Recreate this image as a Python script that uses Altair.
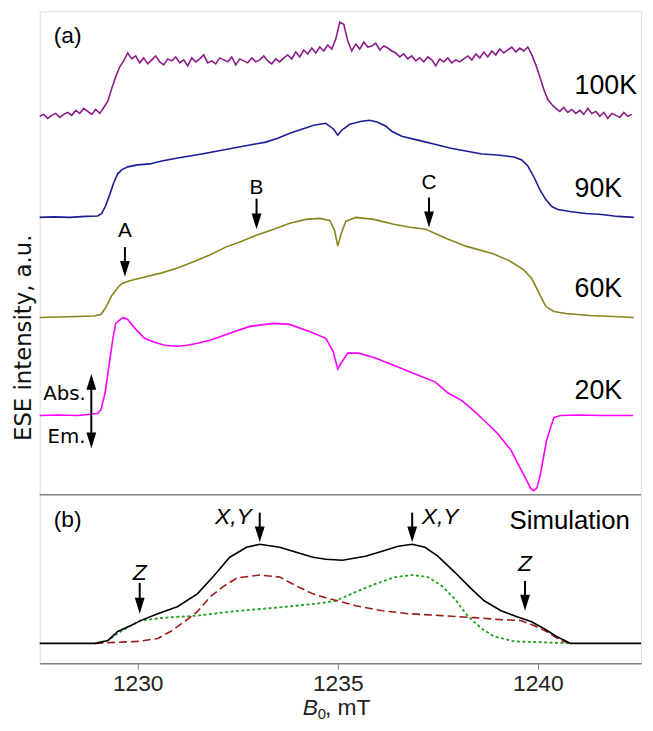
import altair as alt
import pandas as pd

# ---------------- data (field in mT, intensity in a.u.) ----------------
# 100K trace: field sweep start / step, intensities read point by point
SWEEP_START = 1227.55
SWEEP_STEP = 0.1
I_100K = [0, 2, -2, 1, 3, -1, 2, 4, 1, 6, 3, 8, 5, 2, 7,
          3, 9, 15, 28, 40, 50, 56, 64, 58, 61,
          54, 59, 53, 57, 61, 55, 52, 58, 56, 60, 54, 57, 51, 59, 55, 58, 62, 54, 56, 53,
          59, 57, 55, 60, 52, 58, 56, 54, 59, 55, 57, 61, 56, 53, 58, 55, 59,
          62, 58, 65, 60, 67, 63, 69, 64, 70, 66, 72, 68,
          78, 95, 93, 76, 66,
          73, 68, 75, 70, 71, 74, 67, 71, 69, 66,
          64, 60, 63, 58, 61, 56, 59, 55, 60, 57, 51, 58, 55, 59, 54, 57, 55, 58,
          61, 57, 63, 59, 65, 60, 66, 62, 68, 64, 67, 70, 65, 69, 66, 70,
          62, 52, 40, 27, 17, 12,
          8, 5, 9, 4, 7, 3, 6, 2, 8, 3, 5, 0, 4, -2, 3, 1, -1, 4, 0, 2]
B_100K = [round(SWEEP_START + SWEEP_STEP * i, 3) for i in range(len(I_100K))]

B_90K = [1227.55, 1227.9, 1228.3, 1228.7, 1229.0, 1229.1, 1229.2, 1229.3, 1229.4, 1229.5,
         1229.6, 1229.75, 1230.0, 1230.3, 1230.6, 1231.0, 1231.3, 1231.6, 1232.0, 1232.4,
         1232.8, 1233.2, 1233.5, 1233.8, 1234.1, 1234.4, 1234.7, 1234.9, 1235.0, 1235.1,
         1235.3, 1235.6, 1235.8, 1236.0, 1236.2, 1236.35, 1236.6, 1237.0, 1237.4, 1237.8,
         1238.2, 1238.6, 1239.0, 1239.4, 1239.6, 1239.75, 1239.9, 1240.05, 1240.2, 1240.35,
         1240.5, 1240.8, 1241.2, 1241.6, 1242.0, 1242.4]
I_90K = [0, 0.5, 0, 1, 1.5, 4, 12, 23, 35, 44,
         48, 51, 53, 54, 57, 60, 62, 64, 67, 70,
         73, 76, 80, 85, 89, 93, 95, 89, 83, 88,
         94, 97, 98, 96, 92, 87, 82, 78, 74, 70,
         67, 64, 63, 61, 58, 52, 41, 28, 18, 11,
         8, 6, 4, 3, 1, 0]

B_60K = [1227.55, 1228.0, 1228.5, 1228.9, 1229.08, 1229.2, 1229.35, 1229.5, 1229.6, 1229.8,
         1230.1, 1230.6, 1231.0, 1231.5, 1231.8, 1232.2, 1232.6, 1232.97, 1233.4, 1233.8,
         1234.2, 1234.55, 1234.8, 1234.92, 1235.0, 1235.08, 1235.2, 1235.45, 1235.9, 1236.4,
         1236.8, 1237.2, 1237.7, 1238.2, 1238.9, 1239.3, 1239.65, 1239.85, 1240.05, 1240.2,
         1240.4, 1240.7, 1241.3, 1241.9, 1242.4]
I_60K = [0, 0.5, 1, 1.5, 3, 10, 22, 30, 34, 37,
         40, 45, 50, 58, 63, 71, 77, 83, 89, 95,
         99, 100, 98, 88, 72, 84, 97, 101, 99, 94,
         91, 89, 80, 72, 64, 57, 48, 39, 23, 11,
         6, 4, 2, 1, 0]

B_20K = [1227.55, 1228.0, 1228.5, 1229.0, 1229.08, 1229.18, 1229.3, 1229.38, 1229.45, 1229.63,
         1229.75, 1229.93, 1230.17, 1230.42, 1230.67, 1230.99, 1231.24, 1231.49, 1231.81, 1232.3,
         1232.8, 1233.39, 1233.79, 1234.28, 1234.7, 1234.88, 1235.0, 1235.07, 1235.25, 1235.52,
         1235.77, 1235.94, 1236.44, 1236.93, 1237.43, 1237.75, 1238.1, 1238.34, 1238.66, 1238.99,
         1239.33, 1239.48, 1239.65, 1239.83, 1239.9, 1239.98, 1240.07, 1240.22, 1240.4, 1240.57,
         1241.0, 1241.6, 1242.38]
I_20K = [0, 0.5, 0, 2, 6, 22, 55, 78, 93, 99,
         97, 88, 78, 74, 71, 70, 71, 73, 76, 83,
         90, 93, 92, 85, 78, 65, 47, 52, 63, 63,
         60, 58, 50, 42, 34, 23, 15, 7, -5, -18,
         -35, -47, -60, -74, -76, -73, -58, -25, -2, 0,
         0.5, 0, 0]

SPECTRA = ["100K", "90K", "60K", "20K"]
OFFSETS = {"100K": 552, "90K": 450, "60K": 349, "20K": 250}
COLORS = ["#8b1a8b", "#1c1c96", "#86861e", "#ff00ff"]

# simulation
B_SIM_TOTAL = [1227.55, 1228.94, 1229.26, 1229.5, 1229.83, 1230.07, 1230.5, 1230.99, 1231.49, 1231.9,
               1232.3, 1232.72, 1233.05, 1233.55, 1233.96, 1234.38, 1234.7, 1235.12, 1235.69, 1236.11,
               1236.51, 1236.86, 1237.18, 1237.5, 1237.92, 1238.34, 1238.66, 1239.08, 1239.48, 1239.83,
               1240.15, 1240.47, 1240.82, 1242.58]
I_SIM_TOTAL = [0, 0, 3, 12, 18, 23, 30, 37, 50, 68,
               87, 97, 100, 97, 92, 87, 85, 84, 88, 93,
               98, 100, 97, 88, 72, 55, 43, 33, 27, 22,
               15, 7, 0, 0]
B_SIM_XY = [1228.94, 1229.43, 1230.0, 1230.5, 1230.82, 1231.17, 1231.49, 1231.81, 1232.16, 1232.48,
            1233.05, 1233.55, 1233.96, 1234.38, 1234.7, 1235.0, 1235.45, 1236.11, 1236.76, 1237.6,
            1238.42, 1239.08, 1239.58, 1239.9, 1240.22, 1240.57, 1240.82]
I_SIM_XY = [0, 1, 2, 5, 12, 22, 32, 47, 58, 66,
            69, 67, 58, 50, 46, 43, 38, 33, 30, 28,
            26, 24, 23, 18, 12, 3, 0]
B_SIM_Z = [1228.94, 1229.26, 1229.5, 1229.83, 1230.07, 1230.67, 1231.49, 1232.31, 1233.15, 1233.96,
           1234.46, 1234.95, 1235.45, 1235.94, 1236.44, 1236.86, 1237.25, 1237.6, 1237.92, 1238.24,
           1238.59, 1238.91, 1239.41, 1240.22, 1240.82]
I_SIM_Z = [0, 3, 10, 18, 23, 26, 28, 32, 35, 38,
           40, 43, 52, 60, 67, 69, 67, 58, 45, 28,
           15, 7, 2, 1, 0]
SIM_OFFSET = 20

# ---------------- tables ----------------
rows = []
for name, xs, ys in [("100K", B_100K, I_100K), ("90K", B_90K, I_90K),
                     ("60K", B_60K, I_60K), ("20K", B_20K, I_20K)]:
    for b, v in zip(xs, ys):
        rows.append({"B": b, "I": OFFSETS[name] + v, "series": name})
spec_df = pd.DataFrame(rows)

sim_total = pd.DataFrame({"B": B_SIM_TOTAL, "I": [SIM_OFFSET + v for v in I_SIM_TOTAL]})
sim_xy = pd.DataFrame({"B": B_SIM_XY, "I": [SIM_OFFSET + v for v in I_SIM_XY]})
sim_z = pd.DataFrame({"B": B_SIM_Z, "I": [SIM_OFFSET + v for v in I_SIM_Z]})

# annotations (data units)
arrows = pd.DataFrame([
    {"B": 1229.68, "I": 420, "I2": 398, "tip": 398},
    {"B": 1232.97, "I": 469, "I2": 446, "tip": 446},
    {"B": 1237.28, "I": 470, "I2": 448, "tip": 448},
    {"B": 1230.05, "I": 81, "I2": 58, "tip": 58},
    {"B": 1233.05, "I": 152, "I2": 130, "tip": 130},
    {"B": 1236.86, "I": 152, "I2": 130, "tip": 130},
    {"B": 1239.68, "I": 83, "I2": 61, "tip": 61},
])
abs_em = pd.DataFrame([{"B": 1228.84, "I": 284, "I2": 225}])
up_heads = pd.DataFrame([{"B": 1228.84, "I": 284}])
down_heads = pd.concat([arrows[["B", "tip"]].rename(columns={"tip": "I"}),
                        pd.DataFrame([{"B": 1228.84, "I": 225}])])

peak_labels = pd.DataFrame([
    {"B": 1229.68, "I": 436, "t": "A"},
    {"B": 1232.97, "I": 480, "t": "B"},
    {"B": 1237.28, "I": 485, "t": "C"},
])
temp_labels = pd.DataFrame([
    {"B": 1240.92, "I": 583, "t": "100K"},
    {"B": 1240.92, "I": 479, "t": "90K"},
    {"B": 1240.92, "I": 378, "t": "60K"},
    {"B": 1240.92, "I": 275, "t": "20K"},
])
ae_labels = pd.DataFrame([
    {"B": 1228.17, "I": 272, "t": "Abs."},
    {"B": 1228.22, "I": 228, "t": "Em."},
])
panel_labels = pd.DataFrame([
    {"B": 1227.9, "I": 633, "t": "(a)"},
    {"B": 1227.9, "I": 144, "t": "(b)"},
])
sim_label = pd.DataFrame([{"B": 1242.3, "I": 143, "t": "Simulation"}])
z_labels = pd.DataFrame([
    {"B": 1230.05, "I": 91, "t": "Z"},
    {"B": 1239.68, "I": 100, "t": "Z"},
])
xy_left = pd.DataFrame([{"B": 1232.85, "I": 148, "t": "X,Y"}])
xy_right = pd.DataFrame([{"B": 1237.1, "I": 148, "t": "X,Y"}])

X_DOMAIN = [1227.55, 1242.58]
Y_DOMAIN = [0, 658]

x_enc = alt.X("B:Q", scale=alt.Scale(domain=X_DOMAIN, nice=False, zero=False),
              axis=alt.Axis(values=[1230, 1235, 1240], title=None, grid=False,
                            labelFont="Liberation Sans", labelFontSize=23, labelColor="#222",
                            tickSize=6, tickColor="#808080", domainColor="#808080",
                            domainWidth=1.5, labelPadding=4, format="d"))
y_enc = alt.Y("I:Q", scale=alt.Scale(domain=Y_DOMAIN, nice=False, zero=False),
              axis=alt.Axis(labels=False, ticks=False, domain=False, grid=False,
                            title="ESE intensity, a.u.", titleFont="DejaVu Sans",
                            titleFontSize=23, titleFontWeight="normal", titleColor="#111",
                            titlePadding=4))

spectra = alt.Chart(spec_df).mark_line(strokeWidth=1.6).encode(
    x=x_enc, y=y_enc,
    color=alt.Color("series:N", scale=alt.Scale(domain=SPECTRA, range=COLORS), legend=None),
    detail="series:N",
)

divider = alt.Chart(pd.DataFrame({"I": [170]})).mark_rule(color="#808080", strokeWidth=1.5).encode(
    y="I:Q")

l_total = alt.Chart(sim_total).mark_line(color="#000000", strokeWidth=1.6).encode(x="B:Q", y="I:Q")
l_xy = alt.Chart(sim_xy).mark_line(color="#9b1b1b", strokeWidth=1.6, strokeDash=[8, 4]).encode(
    x="B:Q", y="I:Q")
l_z = alt.Chart(sim_z).mark_line(color="#1fa31f", strokeWidth=1.8, strokeDash=[3, 2.5]).encode(
    x="B:Q", y="I:Q")

shafts = alt.Chart(arrows).mark_rule(color="black", strokeWidth=2).encode(
    x="B:Q", y="I:Q", y2="I2:Q")
ae_shaft = alt.Chart(abs_em).mark_rule(color="black", strokeWidth=2).encode(
    x="B:Q", y="I:Q", y2="I2:Q")
heads_down = alt.Chart(down_heads).mark_point(
    shape="M -0.62 -1 L 0.62 -1 L 0 1 Z", filled=True, color="black", size=256, opacity=1
).encode(x="B:Q", y="I:Q")
heads_up = alt.Chart(up_heads).mark_point(
    shape="M -0.62 1 L 0.62 1 L 0 -1 Z", filled=True, color="black", size=256, opacity=1
).encode(x="B:Q", y="I:Q")


def text_layer(df, **kw):
    return alt.Chart(df).mark_text(**kw).encode(x="B:Q", y="I:Q", text="t:N")


t_peaks = text_layer(peak_labels, font="Liberation Sans", fontSize=21, color="black",
                     align="center", baseline="middle")
t_temps = text_layer(temp_labels, font="Liberation Sans", fontSize=27, color="black",
                     align="left", baseline="middle")
t_ae = text_layer(ae_labels, font="DejaVu Sans", fontSize=20, color="black",
                  align="center", baseline="middle")
t_panels = text_layer(panel_labels, font="Liberation Sans", fontSize=23, color="black",
                      align="left", baseline="middle")
t_sim = text_layer(sim_label, font="Liberation Sans", fontSize=26, color="black",
                   align="right", baseline="middle")
t_z = text_layer(z_labels, font="Liberation Sans", fontSize=23, fontStyle="italic",
                 color="black", align="center", baseline="middle")
t_xyl = text_layer(xy_left, font="Liberation Sans", fontSize=23, fontStyle="italic",
                   color="black", align="right", baseline="middle")
t_xyr = text_layer(xy_right, font="Liberation Sans", fontSize=23, fontStyle="italic",
                   color="black", align="left", baseline="middle")

# x-axis title: italic B with subscript 0
xt_b = text_layer(pd.DataFrame([{"B": 1234.505, "I": -52, "t": "B"}]), font="Liberation Sans",
                  fontSize=23, fontStyle="italic", color="#222", align="right",
                  baseline="alphabetic")
xt_0 = text_layer(pd.DataFrame([{"B": 1234.5, "I": -56, "t": "0"}]), font="Liberation Sans",
                  fontSize=15, color="#222", align="left", baseline="alphabetic")
xt_rest = text_layer(pd.DataFrame([{"B": 1234.68, "I": -52, "t": ", mT"}]),
                     font="Liberation Sans", fontSize=23, color="#222", align="left",
                     baseline="alphabetic")

chart = alt.layer(
    spectra, divider, l_z, l_xy, l_total, shafts, ae_shaft, heads_down, heads_up,
    t_peaks, t_temps, t_ae, t_panels, t_sim, t_z, t_xyl, t_xyr, xt_b, xt_0, xt_rest
).properties(
    width=607, height=658,
    padding={"left": 5, "top": 0, "right": 0, "bottom": 0},
).configure_view(
    stroke="#808080", strokeWidth=1.5
).configure(background="white")

chart.save("out.html", embed_options={"renderer": "svg", "actions": False})
